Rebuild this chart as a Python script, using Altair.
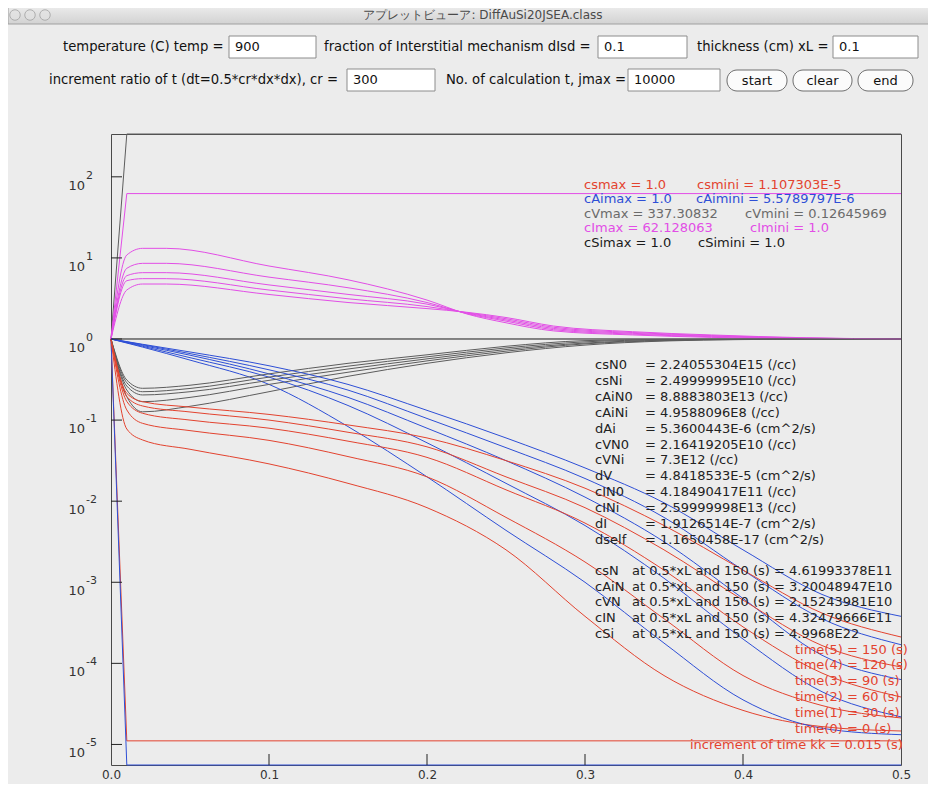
import altair as alt
import pandas as pd

# ------------------------------------------------------------------ data
# initial profiles (time 0) and the constant Si profile
x_init = [0.0, 0.01, 0.5]
cs_t0 = [1.0, 1.107303e-5, 1.107303e-5]
cAi_t0 = [1.0, 5.5789797e-6, 5.5789797e-6]
cV_t0 = [1.0, 337.30832, 337.30832]
cI_t0 = [1.0, 62.128063, 62.128063]
x_si = [0.0, 0.5]
cSi_all = [1.0, 1.0]

times = ["30", "60", "90", "120", "150"]

# substitutional Au, cs (log10 of normalised concentration)
x_cs = [0, 0.01, 0.02, 0.05, 0.1, 0.15, 0.2, 0.25, 0.3, 0.35, 0.4, 0.45, 0.5]
cs_log = {
    "30":  [0, -1.11, -1.245, -1.36, -1.54, -1.78, -2.08, -2.60, -3.42, -4.15, -4.58, -4.78, -4.834],
    "60":  [0, -0.875, -1.04, -1.13, -1.25, -1.45, -1.70, -2.20, -2.75, -3.45, -4.15, -4.52, -4.673],
    "90":  [0, -0.77, -0.916, -1.0, -1.10, -1.26, -1.46, -1.86, -2.27, -2.85, -3.55, -4.12, -4.415],
    "120": [0, -0.71, -0.826, -0.90, -1.00, -1.15, -1.33, -1.70, -2.08, -2.60, -3.22, -3.78, -4.045],
    "150": [0, -0.67, -0.773, -0.84, -0.93, -1.06, -1.22, -1.50, -1.84, -2.30, -2.85, -3.38, -3.675],
}

# interstitial Au, cAi
x_cai = [0, 0.02, 0.05, 0.1, 0.15, 0.2, 0.25, 0.3, 0.35, 0.4, 0.45, 0.5]
cai_log = {
    "30":  [0, -0.10, -0.26, -0.56, -1.08, -1.70, -2.36, -3.00, -3.75, -4.45, -4.80, -4.88],
    "60":  [0, -0.09, -0.23, -0.47, -0.82, -1.28, -1.78, -2.30, -2.95, -3.70, -4.35, -4.66],
    "90":  [0, -0.08, -0.20, -0.43, -0.72, -1.10, -1.50, -1.95, -2.50, -3.20, -3.90, -4.20],
    "120": [0, -0.07, -0.18, -0.38, -0.63, -0.98, -1.34, -1.72, -2.20, -2.85, -3.45, -3.77],
    "150": [0, -0.065, -0.16, -0.33, -0.56, -0.88, -1.22, -1.59, -2.02, -2.60, -3.15, -3.42],
}

# vacancies, cV
x_cv = [0, 0.01, 0.02, 0.05, 0.1, 0.15, 0.2, 0.25, 0.3, 0.35, 0.4, 0.45, 0.5]
cv_log = {
    "30":  [0, -0.711, -0.898, -0.83, -0.65, -0.46, -0.30, -0.17, -0.075, -0.025, -0.007, -0.002, 0],
    "60":  [0, -0.629, -0.773, -0.72, -0.56, -0.41, -0.27, -0.15, -0.06, -0.02, -0.005, -0.001, 0],
    "90":  [0, -0.580, -0.690, -0.65, -0.51, -0.37, -0.245, -0.13, -0.05, -0.015, -0.004, -0.001, 0],
    "120": [0, -0.539, -0.650, -0.61, -0.47, -0.335, -0.22, -0.11, -0.035, -0.01, -0.003, 0, 0],
    "150": [0, -0.506, -0.608, -0.57, -0.43, -0.30, -0.195, -0.09, -0.02, -0.005, -0.001, 0, 0],
}

# self interstitials, cI
x_ci = [0, 0.01, 0.02, 0.035, 0.1, 0.15, 0.2, 0.225, 0.25, 0.28, 0.33, 0.38, 0.44, 0.5]
ci_log = {
    "30":  [0, 1.036, 1.118, 1.118, 0.90, 0.73, 0.48, 0.31, 0.20, 0.10, 0.05, 0.02, 0.005, 0],
    "60":  [0, 0.872, 0.933, 0.933, 0.763, 0.632, 0.45, 0.315, 0.22, 0.115, 0.06, 0.028, 0.008, 0],
    "90":  [0, 0.781, 0.818, 0.818, 0.667, 0.55, 0.43, 0.32, 0.235, 0.13, 0.07, 0.035, 0.01, 0],
    "120": [0, 0.719, 0.744, 0.744, 0.604, 0.496, 0.40, 0.325, 0.25, 0.145, 0.08, 0.042, 0.012, 0],
    "150": [0, 0.604, 0.678, 0.678, 0.549, 0.45, 0.375, 0.33, 0.265, 0.16, 0.09, 0.05, 0.015, 0],
}

y_ticks = [1e-5, 1e-4, 1e-3, 1e-2, 1e-1, 1e0, 1e1, 1e2]
y_exps = ["-5", "-4", "-3", "-2", "-1", "0", "1", "2"]
x_ticks = [0.1, 0.2, 0.3, 0.4]

species = ["cs", "cAi", "cV", "cI", "cSi"]
species_colors = ["#e3432f", "#2e4fd6", "#5c5c5c", "#e24ee6", "#1a1a1a"]

# ------------------------------------------------------------------ table
rows = []
def add(sp, tag, xs, ys):
    for xv, yv in zip(xs, ys):
        rows.append({"x": xv, "y": yv, "species": sp, "curve": sp + "_" + tag})

for t in times:
    add("cI", t, x_ci, [10 ** v for v in ci_log[t]])
    add("cV", t, x_cv, [10 ** v for v in cv_log[t]])
    add("cs", t, x_cs, [10 ** v for v in cs_log[t]])
    add("cAi", t, x_cai, [10 ** v for v in cai_log[t]])
df = pd.DataFrame(rows)

rows = []
add("cs", "0", x_init, cs_t0)
add("cAi", "0", x_init, cAi_t0)
add("cV", "0", x_init, cV_t0)
add("cI", "0", x_init, cI_t0)
add("cSi", "all", x_si, cSi_all)
df0 = pd.DataFrame(rows)

# ------------------------------------------------------------------ layout
PX, PY = 111, 134          # page position of plot origin
W, H = 790, 631
FONT = "DejaVu Sans"

xs = alt.Scale(domain=[0, 0.5], nice=False, zero=False)
ys = alt.Scale(type="log", domain=[5.5789797e-6, 337.30832], nice=False)
cscale = alt.Scale(domain=species, range=species_colors)

dummy = pd.DataFrame({"d": [0]})

def txt(s, x, y, size=13, color="#222222", align="left", weight="normal"):
    return alt.Chart(dummy).mark_text(
        align=align, baseline="middle", fontSize=size, font=FONT, color=color, fontWeight=weight
    ).encode(x=alt.value(x - PX), y=alt.value(y - PY), text=alt.value(s))

def box(x1, y1, x2, y2, fill, stroke, r=0, sw=1):
    return alt.Chart(dummy).mark_rect(
        fill=fill, stroke=stroke, strokeWidth=sw, cornerRadius=r
    ).encode(x=alt.value(x1 - PX), x2=alt.value(x2 - PX),
             y=alt.value(y1 - PY), y2=alt.value(y2 - PY))

layers = []

# window title bar
layers.append(alt.Chart(dummy).mark_rect(
    fill=alt.Gradient(gradient="linear", stops=[alt.GradientStop(color="#ececec", offset=0),
                                                 alt.GradientStop(color="#d2d2d2", offset=1)],
                      x1=0, x2=0, y1=0, y2=1),
    stroke="#a0a0a0", strokeWidth=1
).encode(x=alt.value(8 - PX), x2=alt.value(930 - PX), y=alt.value(6 - PY), y2=alt.value(24 - PY)))
for cx in [15, 30, 45]:
    layers.append(alt.Chart(dummy).mark_point(shape="circle", size=110, filled=True,
                                              fill="#e2e2e2", stroke="#9a9a9a", strokeWidth=1)
                  .encode(x=alt.value(cx - PX), y=alt.value(15 - PY)))
layers.append(txt("アプレットビューア: DiffAuSi20JSEA.class", 483, 15, size=12,
                  color="#4a4a4a", align="center"))

# control rows
CTRL = 13.2
ctrl_labels = [
    ("temperature  (C)  temp =", 63, 47),
    ("fraction of Interstitial mechanism dIsd =", 324, 47),
    ("thickness (cm) xL =", 697, 47),
    ("increment ratio of t (dt=0.5*cr*dx*dx), cr =", 49, 80),
    ("No. of calculation t, jmax =", 446, 80),
]
for s, x, y in ctrl_labels:
    layers.append(txt(s, x, y, size=CTRL, color="#111111"))
fields = [
    ("900", 229, 36, 316, 58),
    ("0.1", 598, 36, 687, 58),
    ("0.1", 833, 36, 918, 58),
    ("300", 347, 69, 435, 91),
    ("10000", 628, 69, 720, 91),
]
for s, x1, y1, x2, y2 in fields:
    layers.append(box(x1, y1, x2, y2, "#ffffff", "#8c8c8c"))
    layers.append(txt(s, x1 + 6, (y1 + y2) / 2, size=13, color="#111111"))
buttons = [("start", 727, 787), ("clear", 793, 852), ("end", 858, 913)]
for s, x1, x2 in buttons:
    layers.append(box(x1, 70, x2, 91, "#fbfbfb", "#6e6e6e", r=10))
    layers.append(txt(s, (x1 + x2) / 2, 80.5, size=13, color="#111111", align="center"))

# curves
xaxis = alt.Axis(values=[0, 0.1, 0.2, 0.3, 0.4, 0.5], format=".1f",
                 title=None, grid=False, domain=False, ticks=False,
                 labelFont=FONT, labelFontSize=12, labelColor="#333333",
                 labelPadding=4, labelFlush=False)
layers.append(alt.Chart(df0).mark_line(strokeWidth=1, interpolate="linear").encode(
    x=alt.X("x:Q", scale=xs, axis=xaxis),
    y=alt.Y("y:Q", scale=ys, axis=None),
    color=alt.Color("species:N", scale=cscale, legend=None),
    detail="curve:N",
))
layers.append(alt.Chart(df).mark_line(strokeWidth=1, interpolate="monotone").encode(
    x=alt.X("x:Q", scale=xs),
    y=alt.Y("y:Q", scale=ys),
    color=alt.Color("species:N", scale=cscale, legend=None),
    detail="curve:N",
))

# inward ticks
layers.append(alt.Chart(pd.DataFrame({"x": x_ticks})).mark_rule(color="#222222").encode(
    x=alt.X("x:Q", scale=xs), y=alt.value(H - 11), y2=alt.value(H)))
ydf = pd.DataFrame({"y": y_ticks, "e": y_exps})
layers.append(alt.Chart(ydf).mark_rule(color="#222222").encode(
    y=alt.Y("y:Q", scale=ys), x=alt.value(0), x2=alt.value(11)))
layers.append(alt.Chart(ydf).mark_text(align="right", baseline="middle", fontSize=13,
                                       font=FONT, color="#333333", dy=9).encode(
    y=alt.Y("y:Q", scale=ys), x=alt.value(85 - PX), text=alt.value("10")))
layers.append(alt.Chart(ydf).mark_text(align="left", baseline="middle", fontSize=11,
                                       font=FONT, color="#333333", dy=-1).encode(
    y=alt.Y("y:Q", scale=ys), x=alt.value(86 - PX), text="e:N"))

# text block 1: extrema
ext = [
    ("csmax  = 1.0", 584, "csmini  = 1.107303E-5", 697, "#e3432f"),
    ("cAimax = 1.0", 584, "cAimini = 5.5789797E-6", 696, "#2e4fd6"),
    ("cVmax  = 337.30832", 584, "cVmini  = 0.12645969", 745, "#6a6a6a"),
    ("cImax  = 62.128063", 584, "cImini  = 1.0", 750, "#e24ee6"),
    ("cSimax = 1.0", 584, "cSimini = 1.0", 698, "#1a1a1a"),
]
for i, (a, xa, b, xb, c) in enumerate(ext):
    yy = 185 + 14.4 * i
    layers.append(txt(a, xa, yy, color=c))
    layers.append(txt(b, xb, yy, color=c))

# text block 2: parameters
params = [
    ("csN0", "= 2.24055304E15 (/cc)"),
    ("csNi", "= 2.49999995E10 (/cc)"),
    ("cAiN0", "= 8.8883803E13 (/cc)"),
    ("cAiNi", "= 4.9588096E8 (/cc)"),
    ("dAi", "= 5.3600443E-6 (cm^2/s)"),
    ("cVN0", "= 2.16419205E10 (/cc)"),
    ("cVNi", "= 7.3E12 (/cc)"),
    ("dV", "= 4.8418533E-5 (cm^2/s)"),
    ("cIN0", "=  4.18490417E11 (/cc)"),
    ("cINi", "=  2.59999998E13 (/cc)"),
    ("dI", "= 1.9126514E-7 (cm^2/s)"),
    ("dself", "= 1.1650458E-17 (cm^2/s)"),
]
for i, (a, b) in enumerate(params):
    yy = 365 + 15.9 * i
    layers.append(txt(a, 595, yy))
    layers.append(txt(b, 645, yy))

# text block 3: mid-plane values
mid = [
    ("csN", "= 4.61993378E11"),
    ("cAiN", "= 3.20048947E10"),
    ("cVN", "= 2.15243981E10"),
    ("cIN", "= 4.32479666E11"),
    ("cSi", "= 4.9968E22"),
]
for i, (a, b) in enumerate(mid):
    yy = 570.7 + 15.8 * i
    layers.append(txt(a, 595, yy))
    layers.append(txt("at 0.5*xL and 150 (s)", 632, yy))
    layers.append(txt(b, 774, yy))

# text block 4: times
tlabels = ["time(5) = 150 (s)", "time(4) = 120 (s)", "time(3) = 90 (s)",
           "time(2) = 60 (s)", "time(1) = 30 (s)", "time(0) = 0 (s)"]
for i, s in enumerate(tlabels):
    layers.append(txt(s, 795, 649.5 + 15.8 * i, color="#e3432f"))
layers.append(txt("increment of time kk = 0.015 (s)", 690, 744.5, color="#e3432f"))

chart = alt.layer(*layers).properties(
    width=W, height=H,
    autosize=alt.AutoSizeParams(type="none"),
    padding={"left": PX - 8, "top": PY - 8, "right": 920 - (PX - 8) - W, "bottom": 19},
    background="#ececec",
).configure_view(stroke="#4a4a4a", strokeWidth=1, fill="#ececec")

chart.save("out.html", embed_options={"renderer": "svg", "actions": False})
